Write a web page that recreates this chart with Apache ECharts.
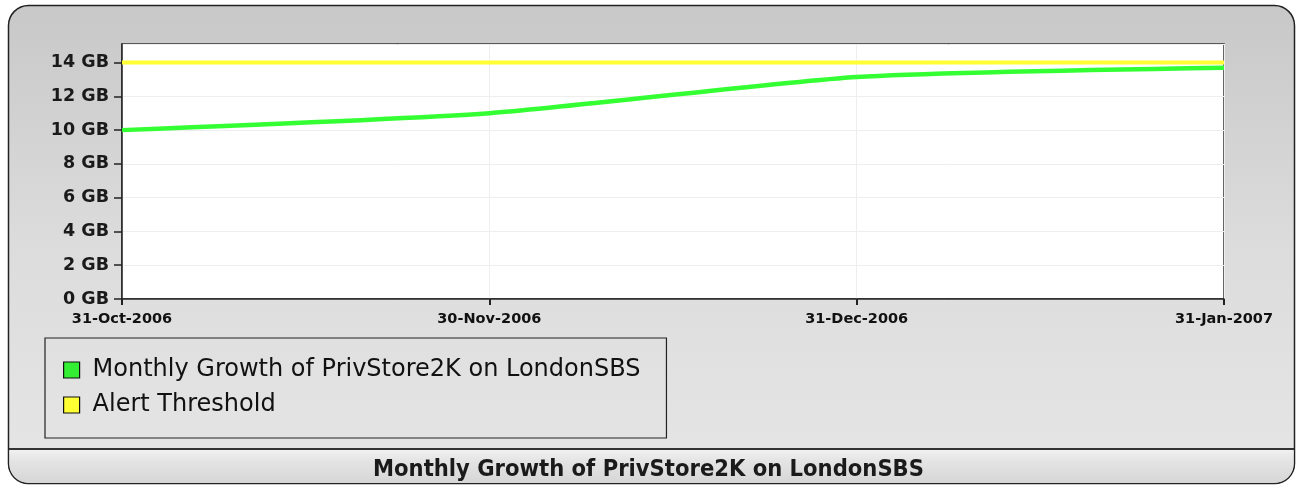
<!DOCTYPE html>
<html>
<head>
<meta charset="utf-8">
<script src="https://cdn.jsdelivr.net/npm/echarts@6/dist/echarts.min.js"></script>
<style>
  html, body { margin: 0; padding: 0; background: #fff; }
  #main { width: 1297px; height: 485px; }
</style>
</head>
<body>
<div id="main"></div>
<script>
  // chart data
  const dates = ['31-Oct-2006', '30-Nov-2006', '31-Dec-2006', '31-Jan-2007'];
  const growth = [10.0, 11.0, 13.15, 13.7];      // GB
  const threshold = [14, 14, 14, 14];            // GB
  const seriesNames = ['Monthly Growth of PrivStore2K on LondonSBS', 'Alert Threshold'];
  const chartTitle = 'Monthly Growth of PrivStore2K on LondonSBS';

  const chartDom = document.getElementById('main');
  const myChart = echarts.init(chartDom, null, { renderer: 'canvas' });

  const option = {
    animation: false,
    backgroundColor: '#fff',
    graphic: [
      {
        // outer panel
        type: 'rect',
        z: -10,
        silent: true,
        shape: { x: 8.5, y: 5.5, width: 1286, height: 478, r: 20 },
        style: {
          fill: new echarts.graphic.LinearGradient(0, 0, 0, 1, [
            { offset: 0, color: '#c8c8c8' },
            { offset: 0.5, color: '#dcdcdc' },
            { offset: 1, color: '#e6e6e6' }
          ]),
          stroke: '#222',
          lineWidth: 1.5
        }
      },
      {
        // footer bar
        type: 'rect',
        z: -9,
        silent: true,
        shape: { x: 9.5, y: 449, width: 1284, height: 34, r: [0, 0, 19, 19] },
        style: {
          fill: new echarts.graphic.LinearGradient(0, 0, 0, 1, [
            { offset: 0, color: '#f2f2f2' },
            { offset: 0.35, color: '#e4e4e4' },
            { offset: 1, color: '#d6d6d6' }
          ])
        }
      },
      {
        type: 'line',
        z: -8,
        silent: true,
        shape: { x1: 9, y1: 449, x2: 1294, y2: 449 },
        style: { stroke: '#333', lineWidth: 2 }
      }
    ],
    title: {
      text: chartTitle,
      left: 'center',
      top: 458,
      padding: 0,
      textStyle: {
        fontFamily: 'DejaVu Sans Condensed',
        fontSize: 23.5,
        fontWeight: 'bold',
        color: '#1a1a1a'
      }
    },
    legend: {
      orient: 'vertical',
      left: 45,
      top: 338,
      padding: [20, 26, 21, 18],
      itemGap: 11,
      itemWidth: 16,
      itemHeight: 16,
      borderColor: '#222',
      borderWidth: 1.2,
      icon: 'rect',
      itemStyle: { borderColor: '#111', borderWidth: 1.2 },
      textStyle: {
        fontFamily: 'DejaVu Sans',
        fontSize: 24,
        color: '#111',
        padding: [0, 0, 0, 8]
      },
      data: seriesNames
    },
    grid: {
      left: 122,
      right: 73,
      top: 44,
      bottom: 186,
      show: true,
      backgroundColor: '#fff',
      borderColor: '#333',
      borderWidth: 1.5
    },
    xAxis: {
      type: 'category',
      data: dates,
      boundaryGap: false,
      axisLine: { show: true, lineStyle: { color: '#222', width: 1.5 } },
      axisTick: { show: true, length: 6, lineStyle: { color: '#222', width: 2 } },
      axisLabel: {
        fontFamily: 'DejaVu Sans',
        fontSize: 14.5,
        fontWeight: 'bold',
        color: '#111',
        margin: 13
      },
      splitLine: { show: true, lineStyle: { color: '#eeeeee', width: 1 } }
    },
    yAxis: {
      type: 'value',
      min: 0,
      max: 15.1,
      interval: 2,
      axisLine: { show: true, lineStyle: { color: '#222', width: 1.5 } },
      axisTick: { show: true, length: 8, lineStyle: { color: '#222', width: 1.5 } },
      axisLabel: {
        fontFamily: 'DejaVu Sans',
        fontSize: 17.5,
        fontWeight: 'bold',
        color: '#1a1a1a',
        margin: 13,
        showMaxLabel: false,
        formatter: function (value) {
          return value + ' GB';
        }
      },
      splitLine: { show: true, lineStyle: { color: '#eeeeee', width: 1 } }
    },
    series: [
      {
        name: seriesNames[0],
        type: 'line',
        data: growth,
        smooth: 0.2,
        symbol: 'none',
        z: 3,
        lineStyle: { color: '#33ff33', width: 4.5 },
        itemStyle: { color: '#33ee33' }
      },
      {
        name: seriesNames[1],
        type: 'line',
        data: threshold,
        symbol: 'none',
        z: 2,
        lineStyle: { color: '#ffff33', width: 4 },
        itemStyle: { color: '#ffff33' }
      }
    ]
  };

  myChart.setOption(option);
</script>
</body>
</html>
